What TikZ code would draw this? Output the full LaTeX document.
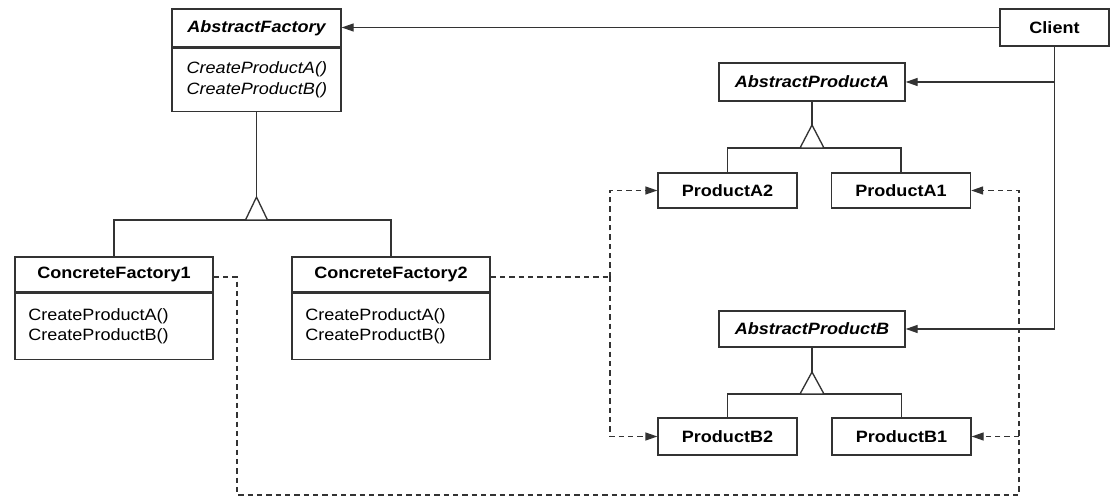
\documentclass[tikz,border=0pt]{standalone}
\usepackage{fontspec}
\setmainfont{Liberation Sans}[FakeStretch=1.1]
\usetikzlibrary{arrows.meta,calc}
\begin{document}
\begin{tikzpicture}[x=0.75pt,y=-0.75pt,
  box/.style={draw=black!80,line width=1pt,rectangle,inner sep=0pt,font=\fontsize{12.3}{15}\selectfont\bfseries},
  abox/.style={box,font=\fontsize{12.3}{15}\selectfont\bfseries\itshape},
  body/.style={draw=black!80,line width=1pt,rectangle,inner xsep=10pt,inner ysep=0pt,align=left,anchor=north,font=\fontsize{12.3}{15.5}\selectfont},
  link/.style={draw=black!80,line width=1pt},
  assoc/.style={link,-{Triangle[length=9pt,width=6pt]}},
  depl/.style={link,dash pattern=on 4pt off 3pt},
  dep/.style={depl,-{Triangle[length=9pt,width=6pt]}},
  inh/.style={draw=black!80,line width=1pt,fill=white,line join=miter}
]
\useasboundingbox (0,0) rectangle (1111,498);

% factories
\node[abox,minimum width=126.75pt,minimum height=28.5pt] (af) at (256.5,28) {AbstractFactory};
\node[body,font=\fontsize{12.3}{15.5}\selectfont\itshape,inner xsep=11pt,text width=104.75pt,minimum height=47.25pt] (afb) at (af.south) {CreateProductA()\\CreateProductB()};

\node[box,minimum width=148.5pt,minimum height=26.25pt] (cf1) at (114,274.5) {ConcreteFactory1};
\node[body,text width=128.5pt,minimum height=49.5pt] (cf1b) at (cf1.south) {CreateProductA()\\CreateProductB()};

\node[box,minimum width=148.5pt,minimum height=26.25pt] (cf2) at (391,274.5) {ConcreteFactory2};
\node[body,text width=128.5pt,minimum height=49.5pt] (cf2b) at (cf2.south) {CreateProductA()\\CreateProductB()};

% client and products
\node[box,minimum width=81.75pt,minimum height=27.75pt] (client) at (1054.5,27.5) {Client};
\node[abox,minimum width=139.5pt,minimum height=28.5pt] (apa) at (812,82) {AbstractProductA};
\node[box,minimum width=104.25pt,minimum height=26.25pt] (pa2) at (727.5,190.5) {ProductA2};
\node[box,minimum width=104.25pt,minimum height=26.25pt] (pa1) at (901,190.5) {ProductA1};
\node[abox,minimum width=139.5pt,minimum height=27pt] (apb) at (812,329) {AbstractProductB};
\node[box,minimum width=104.25pt,minimum height=27.75pt] (pb2) at (727.5,436.5) {ProductB2};
\node[box,minimum width=104.25pt,minimum height=27.75pt] (pb1) at (901.5,436.5) {ProductB1};

% inheritance: factories
\coordinate (t1) at (256.5,220);
\coordinate (a1) at (256.5,197);
\draw[link] (afb.south) -- (a1);
\draw[link] (cf1.north) -- (cf1.north |- t1) -- (cf2.north |- t1) -- (cf2.north);
\draw[inh] ($(t1)+(-11,0)$) -- (a1) -- ($(t1)+(11,0)$) -- cycle;

% inheritance: product A
\coordinate (t2) at (812,148);
\coordinate (a2) at (812,125);
\draw[link] (apa.south) -- (a2);
\draw[link] (pa2.north) -- (pa2.north |- t2) -- (pa1.north |- t2) -- (pa1.north);
\draw[inh] ($(t2)+(-12,0)$) -- (a2) -- ($(t2)+(12,0)$) -- cycle;

% inheritance: product B
\coordinate (t3) at (812,394);
\coordinate (a3) at (812,372);
\draw[link] (apb.south) -- (a3);
\draw[link] (pb2.north) -- (pb2.north |- t3) -- (pb1.north |- t3) -- (pb1.north);
\draw[inh] ($(t3)+(-12,0)$) -- (a3) -- ($(t3)+(12,0)$) -- cycle;

% client associations
\draw[assoc] (client.west) -- (client.west -| af.east);
\coordinate (cA) at (client.south |- apa.east);
\draw[assoc] (client.south) -- (client.south |- apb.east) -- (apb.east);
\draw[assoc] (cA) -- (apa.east);

% dependencies
\coordinate (j2) at (610,277);
\draw[depl] (cf2.east |- j2) -- (j2);
\draw[dep] (j2) |- (pa2.west);
\draw[dep] (j2) |- (pb2.west);

\coordinate (j1) at (237,277);
\coordinate (jb) at (1019,495);
\draw[dep] (cf1.east |- j1) -- (j1) |- (jb) |- (pa1.east);
\draw[dep] (jb |- pb1.east) -- (pb1.east);
\end{tikzpicture}
\end{document}
